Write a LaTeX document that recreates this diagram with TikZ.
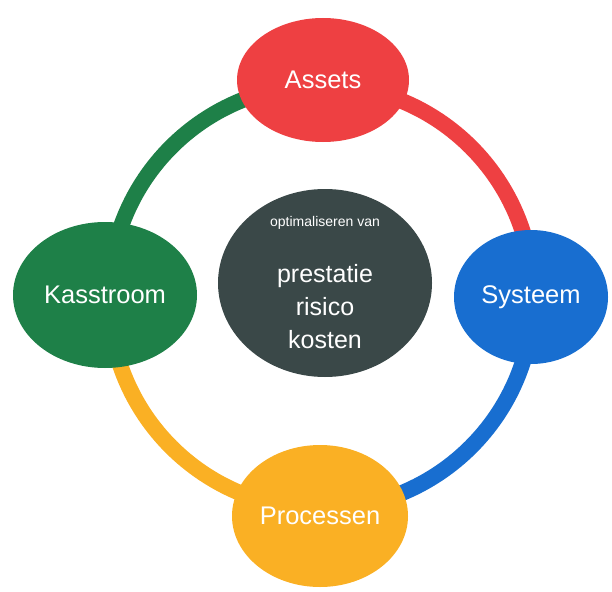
\documentclass[tikz,border=0pt]{standalone}
\usepackage{fontspec}
\setmainfont{Liberation Sans}
\usetikzlibrary{shapes.geometric}
\definecolor{cred}{RGB}{238,64,66}
\definecolor{cblue}{RGB}{24,110,208}
\definecolor{cgreen}{RGB}{30,128,72}
\definecolor{corange}{RGB}{250,176,36}
\definecolor{cdark}{RGB}{58,72,72}
\tikzset{
  blob/.style={ellipse, draw=none, inner sep=0pt},
  lbl/.style={text=white, font=\fontsize{25.5}{30}\selectfont},
  ringline/.style={line width=16pt}
}
\begin{document}
\begin{tikzpicture}[x=1pt,y=-1pt]
\useasboundingbox (0,0) rectangle (612,591);
\coordinate (ring) at (321,297);
% ring arcs
\draw[ringline, cred]    (ring) ++(0,-212) arc[start angle=-90, end angle=0, radius=212];
\draw[ringline, cblue]   (ring) ++(212,0) arc[start angle=0, end angle=90, radius=212];
\draw[ringline, corange] (ring) ++(0,212) arc[start angle=90, end angle=180, radius=212];
\draw[ringline, cgreen]  (ring) ++(-212,0) arc[start angle=180, end angle=270, radius=212];
% ellipses
\node[blob, fill=cred, minimum width=172, minimum height=124] (assets) at (323,80) {};
\node[blob, fill=cblue, minimum width=154, minimum height=134] (systeem) at (531,297) {};
\node[blob, fill=corange, minimum width=176, minimum height=142] (processen) at (320,516) {};
\node[blob, fill=cgreen, minimum width=184, minimum height=146] (kasstroom) at (105,295) {};
\node[blob, fill=cdark, minimum width=214, minimum height=188] (center) at (325,283) {};
% labels
\node[lbl] (tA) at (assets) {Assets};
\node[lbl] (tS) at (systeem) {Systeem};
\node[lbl] (tP) at (processen) {Processen};
\node[lbl] (tK) at (kasstroom) {Kasstroom};
\node[text=white, font=\fontsize{14}{16}\selectfont] (opt) at (325,223) {optimaliseren van};
\node[text=white, align=center, font=\fontsize{25}{33}\selectfont] (main) at (325,307) {prestatie\\risico\\kosten};
\end{tikzpicture}
\end{document}
